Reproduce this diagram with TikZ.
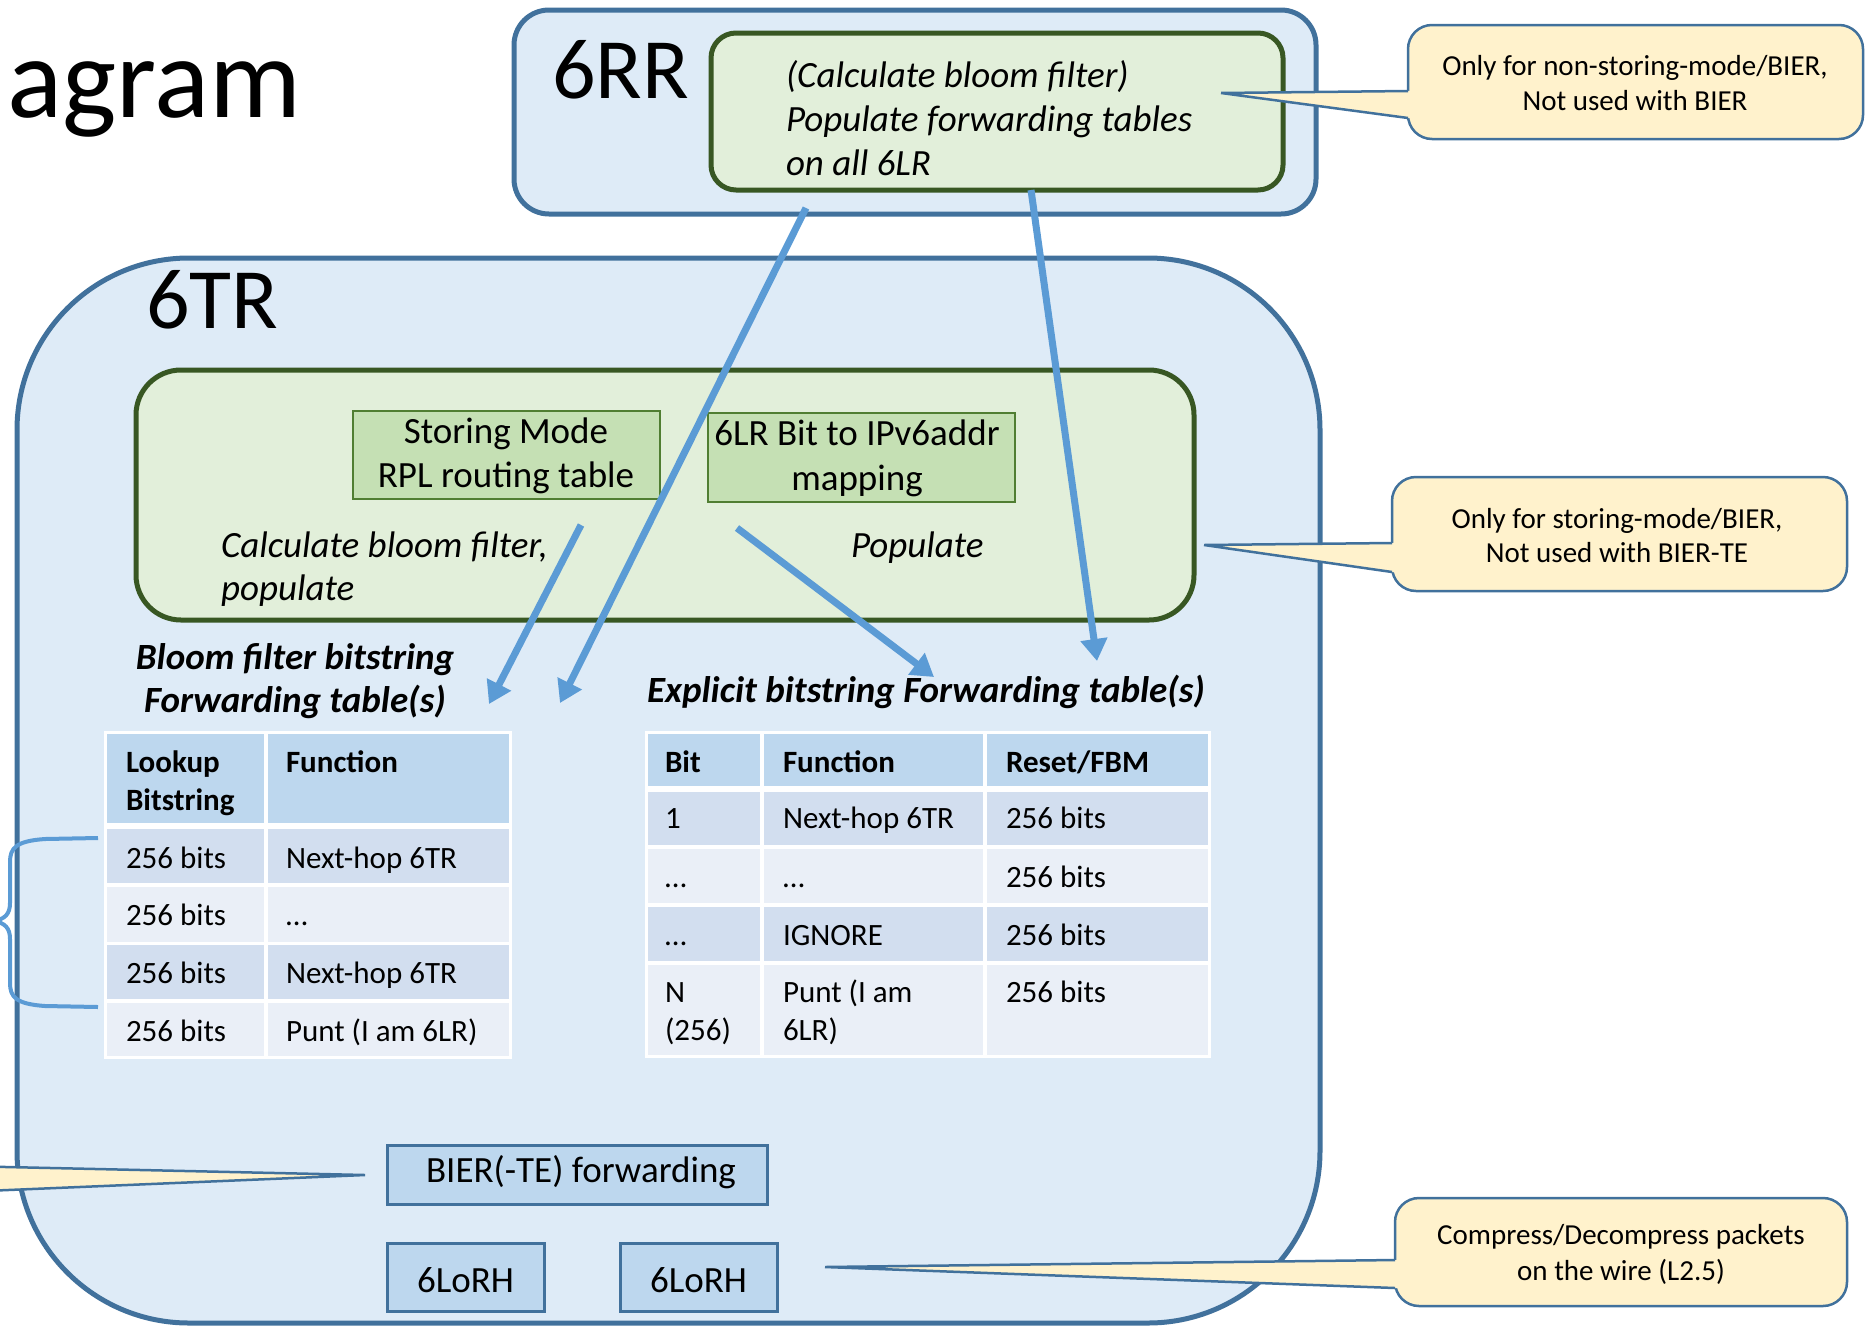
\documentclass[tikz,border=0pt]{standalone}
\usepackage{fontspec}
\setmainfont{Carlito}
\usetikzlibrary{arrows.meta,calc}

\definecolor{frameblue}{HTML}{41719C}
\definecolor{paleblue}{HTML}{DEEBF7}
\definecolor{framegreen}{HTML}{385723}
\definecolor{palegreen}{HTML}{E2EFDA}
\definecolor{midgreen}{HTML}{C5E0B4}
\definecolor{boxgreen}{HTML}{507E32}
\definecolor{arrowblue}{HTML}{5B9BD5}
\definecolor{headblue}{HTML}{BDD7EE}
\definecolor{rowdark}{HTML}{D2DEEF}
\definecolor{rowlight}{HTML}{EAEFF7}
\definecolor{noteyellow}{HTML}{FFF2CC}

% font sizes (1pt = 1 px of the drawing)
\newcommand{\fsTitle}{\fontsize{115}{130}\selectfont}
\newcommand{\fsBig}{\fontsize{86}{100}\selectfont}
\newcommand{\fsMain}{\fontsize{37}{44}\selectfont}
\newcommand{\fsTab}{\fontsize{31}{37}\selectfont}
\newcommand{\fsNote}{\fontsize{29}{35}\selectfont}

\tikzset{
  routerbox/.style={draw=frameblue, fill=paleblue, line width=5pt, rectangle},
  funcbox/.style={draw=framegreen, fill=palegreen, line width=5pt, rectangle},
  tablebox/.style={draw=boxgreen, fill=midgreen, line width=2.5pt, rectangle},
  modbox/.style={draw=frameblue, fill=headblue, line width=3pt, rectangle},
  callbox/.style={draw=frameblue, fill=noteyellow, line width=2.5pt, rectangle, rounded corners=24pt},
  callline/.style={draw=frameblue, line width=2.5pt},
  flow/.style={draw=arrowblue, line width=7pt, -{Triangle[length=22pt,width=26pt]}},
  txt/.style={inner sep=0pt, outer sep=0pt},
  lbl/.style={txt, anchor=base west},
  ctr/.style={txt, anchor=base},
  tabtxt/.style={lbl, font=\fsTab},
  tabhead/.style={lbl, font=\fsTab\bfseries},
  notetxt/.style={ctr, font=\fsNote},
}

% callout: name, x1, y1, x2, y2, upper base y, lower base y, tip x, tip y
\newcommand{\drawcallout}[9]{%
  \node[callbox, minimum width={#4-#2}, minimum height={#5-#3}] (#1) at ({(#2+#4)/2},{(#3+#5)/2}) {};
  \coordinate (#1-tip) at (#8,#9);
  \coordinate (#1-b1) at (#2,#6);
  \coordinate (#1-b2) at (#2,#7);
  \fill[noteyellow] (#1-tip) -- ($(#1-tip)!1.04!(#1-b1)$) -- ($(#1-tip)!1.04!(#1-b2)$) -- cycle;
  \draw[callline] (#1-tip) -- (#1-b1) (#1-tip) -- (#1-b2);
}

\begin{document}
\begin{tikzpicture}[x=1pt,y=-1pt]
\useasboundingbox (0,0) rectangle (1867,1328);
\clip (0,0) rectangle (1867,1328);

% slide title (cut at the left edge)
\node[lbl, font=\fsTitle] (title) at (7,117) {agram};

% ---------- 6RR ----------
\node[routerbox, rounded corners=35pt, minimum width=802pt, minimum height=204pt] (rr) at (915,112) {};
\node[lbl, font=\fsBig] (rrname) at (552,98) {6RR};
\node[funcbox, rounded corners=25pt, minimum width=572pt, minimum height=157pt] (rrfunc) at (997,111.5) {};
\node[lbl, font=\fsMain\itshape] (rrl1) at (786,87) {(Calculate bloom filter)};
\node[lbl, font=\fsMain\itshape] (rrl2) at (786,131) {Populate forwarding tables};
\node[lbl, font=\fsMain\itshape] (rrl3) at (786,175) {on all 6LR};

% ---------- 6TR ----------
\node[routerbox, rounded corners=172pt, minimum width=1303pt, minimum height=1065pt] (tr) at (668.5,790.5) {};
\node[lbl, font=\fsBig] (trname) at (146,328) {6TR};
\node[funcbox, rounded corners=45pt, minimum width=1058pt, minimum height=250pt] (trfunc) at (665,495) {};

\node[tablebox, minimum width=307pt, minimum height=88pt] (rpl) at (506.5,455) {};
\node[ctr, font=\fsMain] (rpl1) at (506,443) {Storing Mode};
\node[ctr, font=\fsMain] (rpl2) at (506,487) {RPL routing table};

\node[tablebox, minimum width=307pt, minimum height=89pt] (map) at (861.5,457.5) {};
\node[ctr, font=\fsMain] (map1) at (857,445) {6LR Bit to IPv6addr};
\node[ctr, font=\fsMain] (map2) at (857,490) {mapping};

\node[lbl, font=\fsMain\itshape] (calc1) at (221,557) {Calculate bloom filter,};
\node[lbl, font=\fsMain\itshape] (calc2) at (221,600) {populate};
\node[lbl, font=\fsMain\itshape] (pop) at (851,557) {Populate};

% ---------- bloom filter table ----------
\node[ctr, font=\fsMain\bfseries\itshape] (bft1) at (295,669) {Bloom filter bitstring};
\node[ctr, font=\fsMain\bfseries\itshape] (bft2) at (295,712) {Forwarding table(s)};
\fill[white] (104,731) rectangle (512,1059);
\foreach \ya/\yb/\c in {734/823/headblue, 829/883/rowdark, 887/942/rowlight, 945/999/rowdark, 1003/1056/rowlight}
  \foreach \xa/\xb in {107/264, 268/509}
    \fill[\c] (\xa,\ya) rectangle (\xb,\yb);
\node[tabhead] (bh1) at (126,772) {Lookup};
\node[tabhead] (bh2) at (126,810) {Bitstring};
\node[tabhead] (bh3) at (286,772) {Function};
\foreach \y/\f [count=\i] in {868/Next-hop 6TR, 925/…, 983/Next-hop 6TR, 1041/Punt (I am 6LR)} {
  \node[tabtxt] (bk-\i) at (126,\y) {256 bits};
  \node[tabtxt] (bf-\i) at (286,\y) {\f};
}

% ---------- explicit bitstring table ----------
\node[lbl, font=\fsMain\bfseries\itshape] (ebt) at (647,702) {Explicit bitstring Forwarding table(s)};
\fill[white] (645,731) rectangle (1211,1058);
\foreach \ya/\yb/\c in {734/786/headblue, 792/845/rowdark, 849/903/rowlight, 907/961/rowdark, 965/1055/rowlight}
  \foreach \xa/\xb in {648/760, 764/983, 987/1208}
    \fill[\c] (\xa,\ya) rectangle (\xb,\yb);
\node[tabhead] (eh1) at (665,772) {Bit};
\node[tabhead] (eh2) at (783,772) {Function};
\node[tabhead] (eh3) at (1006,772) {Reset/FBM};
\foreach \y/\b/\f [count=\i] in {828/1/Next-hop 6TR, 887/…/…, 945/…/IGNORE, 1002/N/Punt (I am} {
  \node[tabtxt] (eb-\i) at (665,\y) {\b};
  \node[tabtxt] (ef-\i) at (783,\y) {\f};
  \node[tabtxt] (er-\i) at (1006,\y) {256 bits};
}
\node[tabtxt] (eb-5) at (665,1040) {(256)};
\node[tabtxt] (ef-5) at (783,1040) {6LR)};

% ---------- forwarding plane ----------
\node[modbox, minimum width=380pt, minimum height=59pt] (bier) at (577,1174.5) {};
\node[ctr, font=\fsMain] (biert) at (581,1182) {BIER(-TE) forwarding};
\node[modbox, minimum width=157pt, minimum height=68pt] (lo1) at (465.5,1277) {};
\node[ctr, font=\fsMain] (lo1t) at (465.5,1292) {6LoRH};
\node[modbox, minimum width=157pt, minimum height=68pt] (lo2) at (698.5,1277) {};
\node[ctr, font=\fsMain] (lo2t) at (698.5,1292) {6LoRH};

% ---------- population arrows ----------
\coordinate (aS) at (806,208);  \coordinate (aE) at (560,703);
\coordinate (bS) at (1031,190); \coordinate (bE) at (1097,661);
\coordinate (cS) at (581,525);  \coordinate (cE) at (489,704);
\coordinate (dS) at (737,528);  \coordinate (dE) at (934,677);
\draw[flow] (aS) -- (aE);
\draw[flow] (bS) -- (bE);
\draw[flow] (cS) -- (cE);
\draw[flow] (dS) -- (dE);

% brace grouping the next-hop rows
\coordinate (brTop) at (98,838);
\coordinate (brBot) at (98,1007);
\draw[arrowblue, line width=4pt, line join=round]
  (brTop) -- (45,839) .. controls (16,841) and (10,848) .. (10,862) -- (10,903)
  .. controls (10,914) and (5,919) .. (-6,921)
  .. controls (5,923) and (10,928) .. (10,939) -- (10,983)
  .. controls (10,997) and (16,1004) .. (45,1006) -- (brBot);

% ---------- callouts ----------
\drawcallout{noteA}{1408}{25}{1863}{139}{91}{118}{1221}{93}
\node[notetxt] (noteA1) at (1635,75) {Only for non-storing-mode/BIER,};
\node[notetxt] (noteA2) at (1635,110) {Not used with BIER};

\drawcallout{noteB}{1392}{477}{1847}{591}{543}{572}{1204}{545}
\node[notetxt] (noteB1) at (1617,528) {Only for storing-mode/BIER,};
\node[notetxt] (noteB2) at (1617,562) {Not used with BIER-TE};

\drawcallout{noteC}{1395}{1198}{1847}{1306}{1260}{1288}{825}{1267}
\node[notetxt] (noteC1) at (1621,1244) {Compress/Decompress packets};
\node[notetxt] (noteC2) at (1621,1280) {on the wire (L2.5)};

\drawcallout{noteD}{-420}{1090}{-10}{1250}{1157.5}{1208}{365}{1175}

\end{tikzpicture}
\end{document}
